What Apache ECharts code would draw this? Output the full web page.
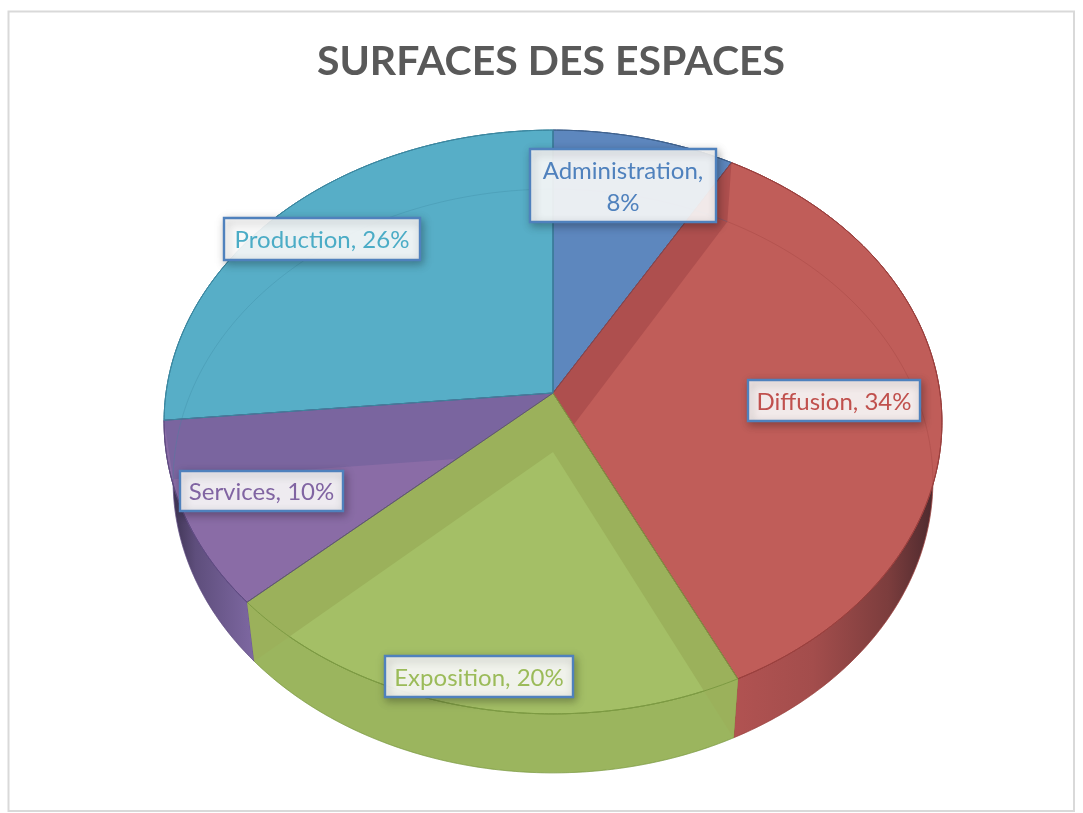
<!DOCTYPE html>
<html><head><meta charset="utf-8">
<style>html,body{margin:0;padding:0;background:#fff}#c{width:1083px;height:813px}</style>
<script src="https://cdn.jsdelivr.net/npm/echarts@6/dist/echarts.min.js"></script>
</head><body><div id="c"></div>
<script>
const categories = ['Administration','Diffusion','Exposition','Services','Production'];
const shares = [8.35,34.49,20.36,10.31,26.49];
const faceColors = ['#5D87BE','#C05D59','#A4BF66','#8A6CA6','#57AEC7'];
const wallColors = ['#52779F','#AE4F4E','#9BB15B','#7A659F','#4C9AB2'];
const edgeColors = ['#3F628F','#9A3F3D','#7C9A42','#5F4B82','#3B87A0'];
const textColors = ['#4F81BD','#C0504D','#9BBB59','#8064A2','#4BACC6'];
const sideStops = [
  [[0,'#52779F'],[1,'#52779F']],
  [[0,'#B25352'],[0.4,'#A34D4C'],[0.75,'#7C3D3D'],[1,'#44262B']],
  [[0,'#9BB55E'],[1,'#9BB55E']],
  [[0,'#332A44'],[0.35,'#5E4E7C'],[1,'#7E68A2']],
  [[0,'#4C9AB2'],[1,'#4C9AB2']]
];
const labelBoxes = [
  {x:530,y:149,w:186,h:73},{x:748,y:380,w:172,h:41},{x:385,y:656,w:188,h:41},
  {x:180,y:471,w:163,h:40},{x:224,y:218,w:196,h:42}
];
const topPlane = {cx:553,cy:393,R:387,S:289,k:0.0993};
const basePlane = {cx:553,cy:452,R:378,S:289,k:0.0993};

const total = shares.reduce((a,b)=>a+b,0);
const starts = []; shares.reduce((acc,v,i)=>{starts[i]=acc;return acc+v;},0);
const ang = p => p/total*2*Math.PI;
function proj(pl,t){const u=Math.sin(t),v=Math.cos(t),w=1+pl.k*v;return [pl.cx+pl.R*u/w,pl.cy-pl.S*v/w];}
function arc(pl,a,b){const n=Math.max(2,Math.ceil((b-a)/0.01)),r=[];for(let i=0;i<=n;i++)r.push(proj(pl,a+(b-a)*i/n));return r;}
function range(i){return [ang(starts[i]),ang(starts[i]+shares[i])];}
const apex = pl => [pl.cx,pl.cy];

function layer(z,fn){return {type:'custom',coordinateSystem:'none',z,silent:true,animation:false,
  data:categories.map((n,i)=>({name:n,value:shares[i]})),
  renderItem:(p,api)=>fn(p.dataIndex,api)};}

function sideEl(i){
  const [a,b]=range(i);
  const pts=arc(topPlane,a,b).concat(arc(basePlane,a,b).reverse());
  return {type:'polygon',shape:{points:pts},style:{
    fill:new echarts.graphic.LinearGradient(0,0,1,0,sideStops[i].map(s=>({offset:s[0],color:s[1]}))),
    stroke:edgeColors[i],lineWidth:0.6}};
}
function topEl(i){
  const [a,b]=range(i);
  return {type:'polygon',shape:{points:[apex(topPlane)].concat(arc(topPlane,a,b))},
    style:{fill:faceColors[i],stroke:edgeColors[i],lineWidth:1}};
}
function wallEl(i){
  // The wall on a slice's leading edge shows through whichever slice lies below it on screen.
  const [a]=range(i), prev=(i+categories.length-1)%categories.length;
  if(a<=0) return null;
  const owner=a<Math.PI?i:prev;
  return {type:'polygon',z2:Math.round(100-Math.abs(a-Math.PI)*10),
    shape:{points:[apex(topPlane),proj(topPlane,a),proj(basePlane,a),apex(basePlane)]},
    style:{fill:wallColors[owner]}};
}
function ghostEl(i){
  const [a,b]=range(i);
  return {type:'polyline',shape:{points:arc(basePlane,a,b)},style:{fill:null,stroke:edgeColors[i],lineWidth:0.8,opacity:0.4}};
}
function rimEl(i){
  const [a,b]=range(i);
  return {type:'polygon',shape:{points:[apex(topPlane)].concat(arc(topPlane,a,b))},
    style:{fill:null,stroke:edgeColors[i],lineWidth:1}};
}
function labelEl(i,api){
  const b=labelBoxes[i], sep=b.h>50?',\n':', ';
  return {type:'group',children:[
    {type:'rect',shape:{x:b.x,y:b.y,width:b.w,height:b.h},
     style:{fill:'rgba(255,255,255,0.89)',stroke:'#4F81BD',lineWidth:2.4,shadowBlur:8,shadowColor:'rgba(0,0,0,0.3)',shadowOffsetX:2,shadowOffsetY:3}},
    {type:'text',x:b.x+b.w/2,y:b.y+b.h/2+1.5,style:{text:categories[i]+sep+Math.round(api.value(0))+'%',
      fill:textColors[i],font:'24px Lato, "Open Sans", sans-serif',align:'center',verticalAlign:'middle',lineHeight:32}}
  ]};
}
const chart=echarts.init(document.getElementById('c'),null,{renderer:'canvas'});
chart.setOption({
  animation:false,backgroundColor:'#fff',
  title:{text:'SURFACES DES ESPACES',left:546,top:36,textAlign:'center',
    textStyle:{color:'#595959',fontFamily:'Lato, "Open Sans", sans-serif',fontWeight:'bold',fontSize:41}},
  graphic:[{type:'rect',z:0,silent:true,shape:{x:8.5,y:11.5,width:1065.5,height:799.5},style:{fill:'#fff',stroke:'#D9D9D9',lineWidth:2}}],
  series:[layer(1,sideEl),layer(2,topEl),layer(3,wallEl),layer(4,ghostEl),layer(5,rimEl),layer(6,labelEl)]
});
</script></body></html>
